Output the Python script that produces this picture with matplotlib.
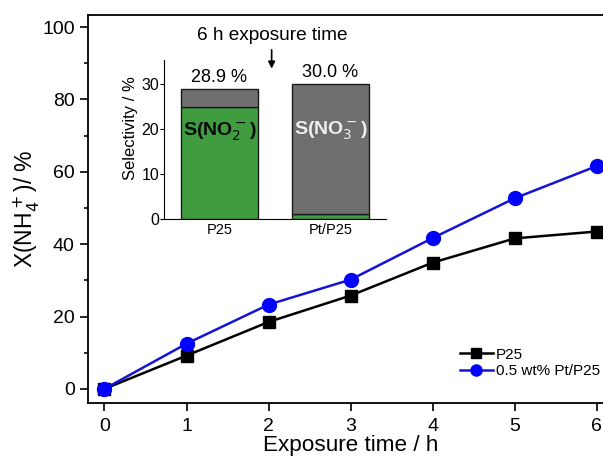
import matplotlib.pyplot as plt
from matplotlib.ticker import MultipleLocator

plt.rcParams["font.family"] = ["Liberation Sans", "DejaVu Sans"]

# main data
hours = [0, 1, 2, 3, 4, 5, 6]
x_p25 = [0, 9.2, 18.5, 25.8, 34.9, 41.6, 43.5]
x_ptp25 = [0, 12.5, 23.3, 30.2, 41.7, 52.7, 61.6]

# inset data
catalysts = ["P25", "Pt/P25"]
sel_no2 = [24.8, 1.0]
sel_total = [28.9, 30.0]
sel_labels = ["28.9 %", "30.0 %"]

fig = plt.figure(figsize=(6.03, 4.59), dpi=100)
ax = fig.add_axes([0.146, 0.122, 0.871, 0.845])

ax.plot(hours, x_p25, color="black", marker="s", markersize=8.5,
        linewidth=1.8, label="P25")
ax.plot(hours, x_ptp25, color="#1414d8", marker="o", markersize=10,
        markerfacecolor="#0000ff", markeredgecolor="#0000ff",
        linewidth=1.8, label="0.5 wt% Pt/P25")

ax.set_xlim(-0.2, 6.2)
ax.set_ylim(-3.9, 103.3)
ax.xaxis.set_major_locator(MultipleLocator(1))
ax.yaxis.set_major_locator(MultipleLocator(20))
ax.yaxis.set_minor_locator(MultipleLocator(10))
ax.tick_params(which="both", direction="out", labelsize=14, width=1.2)
ax.tick_params(which="major", length=6)
ax.tick_params(which="minor", length=3)
ax.tick_params(axis="x", pad=5)
for s in ax.spines.values():
    s.set_linewidth(1.3)
ax.set_xlabel("Exposure time / h", fontsize=16.2, labelpad=0)
ax.set_ylabel("X(NH$_4^+$)/ %", fontsize=16.5, labelpad=0)

ax.legend(loc="upper left", bbox_to_anchor=(452 / 603, 1 - 340 / 459),
          bbox_transform=fig.transFigure, frameon=False, fontsize=11,
          handlelength=2.2, handletextpad=0.15, labelspacing=0.15,
          borderpad=0, markerscale=0.8)

# inset
ins = fig.add_axes([0.272, 0.523, 0.368, 0.346])
green = "#3f9d3f"
grey = "#6f6f6f"
pos = [0, 1]
ins.bar(pos, sel_no2, width=0.7, color=green, edgecolor="#1a1a1a", linewidth=1)
ins.bar(pos, [t - g for t, g in zip(sel_total, sel_no2)], bottom=sel_no2,
        width=0.7, color=grey, edgecolor="#1a1a1a", linewidth=1)
for p, t, lab in zip(pos, sel_total, sel_labels):
    ins.text(p, t + 0.6, lab, ha="center", va="bottom", fontsize=13)
ins.text(0, 19.3, "S(NO$_2^-$)", ha="center", va="center", fontsize=14,
         fontweight="bold", color="#0a0a0a")
ins.text(1, 19.5, "S(NO$_3^-$)", ha="center", va="center", fontsize=14,
         fontweight="bold", color="#eeeeee")
ins.set_xlim(-0.5, 1.5)
ins.set_ylim(0, 35.3)
ins.set_xticks(pos)
ins.set_xticklabels(catalysts)
ins.yaxis.set_major_locator(MultipleLocator(10))
ins.tick_params(axis="x", length=0, labelsize=10.5, pad=3)
ins.tick_params(axis="y", direction="out", length=3, labelsize=11.5, pad=0.5)
ins.spines["top"].set_visible(False)
ins.spines["right"].set_visible(False)
ins.set_ylabel("Selectivity / %", fontsize=12)
ins.yaxis.set_label_coords(-0.115, 0.57)
ins.set_facecolor("none")

fig.text(272 / 603, 1 - 35 / 459, "6 h exposure time", ha="center",
         va="center", fontsize=13.7)
ins.annotate("", xy=(0.47, 32.8), xytext=(0.47, 38.2),
             arrowprops=dict(arrowstyle="-|>", color="black", lw=1.2,
                             mutation_scale=10),
             annotation_clip=False)

fig.savefig("out.png", dpi=100)
